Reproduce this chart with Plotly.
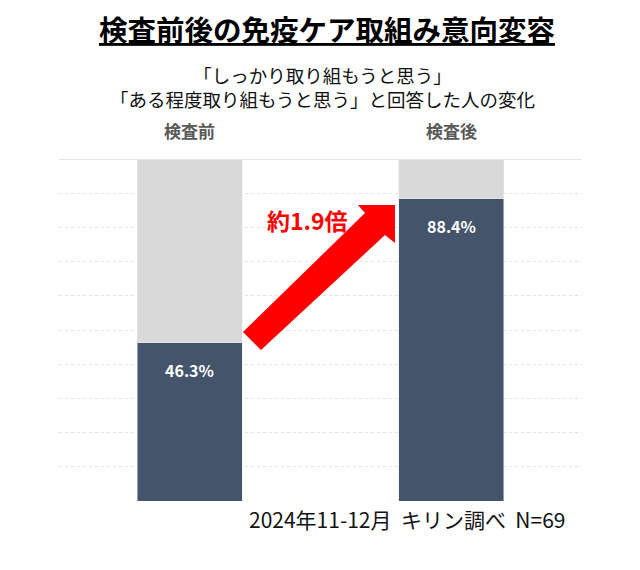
import plotly.graph_objects as go

# ---- data ----
categories = ["検査前", "検査後"]
positive_pct = [46.3, 88.4]       # 「しっかり」+「ある程度」取り組もうと思う
remainder_pct = [53.7, 11.6]      # その他
value_labels = ["46.3%", "88.4%"]
multiplier_label = "約1.9倍"
title_text = "検査前後の免疫ケア取組み意向変容"
subtitle_lines = ["「しっかり取り組もうと思う」", "「ある程度取り組もうと思う」と回答した人の変化"]
source_text = "2024年11-12月  キリン調べ  N=69"

FONT = "Noto Sans CJK JP"
DARK = "#44546A"
LIGHT = "#D9D9D9"

# page offset from browser body margin
OFF = 8
PL, PT, PR, PB = 59, 159, 582, 501     # plot area in page pixels
PW, PH = PR - PL, PB - PT
W, H = 640 - OFF, 570 - OFF
ML, MT = PL - OFF, PT - OFF
MR, MB = W - ML - PW, H - MT - PH

def px_to_paper(px, py):
    return (px - PL) / PW, (PB - py) / PH

x_idx = list(range(len(categories)))

fig = go.Figure()
fig.add_trace(go.Bar(x=x_idx, y=positive_pct, marker_color=DARK, width=0.4,
                     showlegend=False, hoverinfo="skip"))
fig.add_trace(go.Bar(x=x_idx, y=remainder_pct, marker_color=LIGHT, width=0.4,
                     showlegend=False, hoverinfo="skip"))

annotations = []
for i, (v, lab) in enumerate(zip(positive_pct, value_labels)):
    annotations.append(dict(x=i, y=v, xref="x", yref="y", text=f"<b>{lab}</b>",
                            showarrow=False, yanchor="top", yshift=-13,
                            font=dict(family=FONT, size=16, color="white")))
for i, c in enumerate(categories):
    annotations.append(dict(x=i, y=1, xref="x", yref="paper", text=f"<b>{c}</b>",
                            showarrow=False, yanchor="bottom", yshift=14,
                            font=dict(family=FONT, size=17, color="#595959")))

tx, ty = px_to_paper(327, 28)
annotations.append(dict(x=tx, y=ty, xref="paper", yref="paper",
                        text=f"<b><u>{title_text}</u></b>", showarrow=False,
                        xanchor="center", yanchor="middle",
                        font=dict(family=FONT, size=28.5, color="black")))
sx, sy = px_to_paper(322, 87)
annotations.append(dict(x=sx, y=sy, xref="paper", yref="paper",
                        text="<br>".join(subtitle_lines), showarrow=False,
                        xanchor="center", yanchor="middle", align="center",
                        font=dict(family=FONT, size=18.5, color="#111111")))
fx, fy = px_to_paper(568, 519)
annotations.append(dict(x=fx, y=fy, xref="paper", yref="paper",
                        text=source_text, showarrow=False, xanchor="right", yanchor="middle",
                        font=dict(family=FONT, size=21, color="#111111")))
mx, my = px_to_paper(307, 220)
annotations.append(dict(x=mx, y=my, xref="paper", yref="paper",
                        text=f"<b>{multiplier_label}</b>", showarrow=False,
                        xanchor="center", yanchor="middle",
                        font=dict(family=FONT, size=23, color="#FF0000")))

arrow_px = [(243, 332), (365, 213), (358, 205), (395, 205), (395, 243), (385, 235), (261, 350)]
pts = [px_to_paper(a, b) for a, b in arrow_px]
path = "M " + " L ".join(f"{x:.4f},{y:.4f}" for x, y in pts) + " Z"

shapes = [
    dict(type="path", path=path, xref="paper", yref="paper",
         fillcolor="#FF0000", line=dict(width=0), layer="above"),
    dict(type="line", xref="paper", yref="y", x0=0, x1=1, y0=100, y1=100,
         line=dict(color="#DADADA", width=1.5), layer="below"),
]

fig.update_layout(
    barmode="stack",
    width=W, height=H,
    margin=dict(l=ML, r=MR, t=MT, b=MB, pad=0),
    paper_bgcolor="white", plot_bgcolor="white",
    xaxis=dict(range=[-0.5, 1.5], showticklabels=False, showgrid=False,
               zeroline=False, showline=False, fixedrange=True),
    yaxis=dict(range=[0, 100], dtick=10, showticklabels=False, showgrid=True,
               gridcolor="#E2E2E2", griddash="dot", gridwidth=1,
               zeroline=False, showline=False, fixedrange=True),
    annotations=annotations,
    shapes=shapes,
    font=dict(family=FONT),
)

fig.write_html("out.html")
